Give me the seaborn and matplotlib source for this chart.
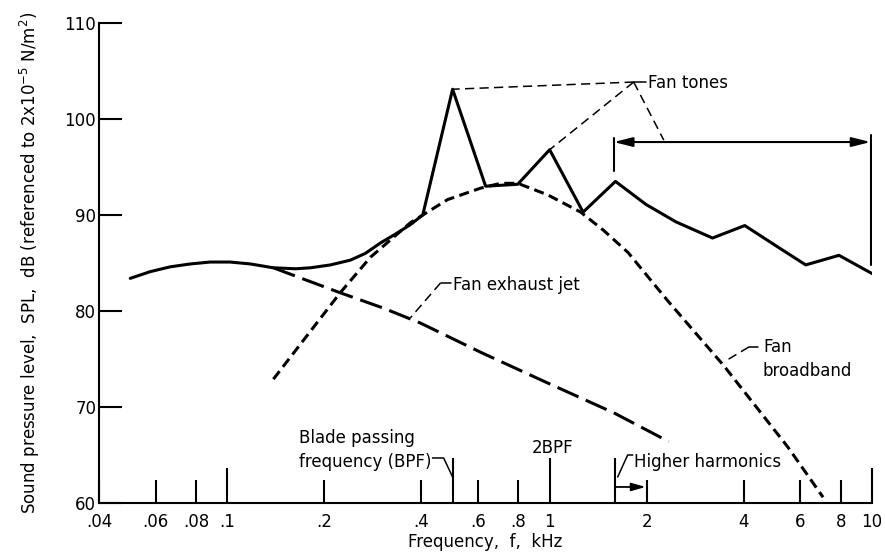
import matplotlib
matplotlib.use("Agg")
import matplotlib.pyplot as plt
from matplotlib.ticker import FixedLocator, FixedFormatter, NullFormatter
import seaborn as sns

# Total fan-engine spectrum (solid line), frequency in kHz and SPL in dB
total_khz = [0.050, 0.0577, 0.0665, 0.0767, 0.0886, 0.102, 0.118, 0.139, 0.163, 0.181,
             0.209, 0.241, 0.268, 0.299, 0.332, 0.370, 0.404, 0.500, 0.633, 0.796,
             1.00, 1.27, 1.60, 1.99, 2.46, 3.20, 4.03, 5.14, 6.23, 7.90, 10.0]
total_db = [83.4, 84.1, 84.6, 84.9, 85.1, 85.1, 84.9, 84.5, 84.4, 84.5,
            84.8, 85.3, 86.0, 87.1, 88.0, 89.0, 90.0, 103.1, 93.0, 93.2,
            96.8, 90.3, 93.5, 91.1, 89.3, 87.6, 88.9, 86.6, 84.8, 85.8, 83.9]

# Fan exhaust jet noise component (long dashes)
jet_khz = [0.139, 0.224, 0.305, 0.397, 0.611, 0.986, 1.58, 2.34]
jet_db = [84.5, 81.9, 80.3, 78.75, 75.7, 72.5, 69.4, 66.4]

# Fan broadband noise component (short dashes)
broadband_khz = [0.139, 0.224, 0.278, 0.370, 0.482, 0.611, 0.704, 0.796, 0.986,
                 1.248, 1.47, 1.75, 2.32, 3.47, 5.49, 7.05]
broadband_db = [72.9, 81.9, 85.6, 89.2, 91.6, 92.8, 93.3, 93.3, 92.1,
                90.3, 88.4, 86.1, 81.1, 74.3, 65.8, 60.6]

x_ticks = [0.04, 0.06, 0.08, 0.1, 0.2, 0.4, 0.6, 0.8, 1, 2, 4, 6, 8, 10]
x_tick_labels = [".04", ".06", ".08", ".1", ".2", ".4", ".6", ".8",
                 "1", "2", "4", "6", "8", "10"]
y_ticks = [60, 70, 80, 90, 100, 110]

bpf_khz = 0.5            # blade passing frequency
bpf2_khz = 1.0           # second harmonic
harmonics_khz = 1.6      # start of higher harmonics
tone_band_khz = (1.58, 9.9)
tone_band_db = 97.6

sns.set_theme(style="white")
plt.rcParams["font.family"] = ["DejaVu Sans"]
plt.rcParams["mathtext.fontset"] = "dejavusans"

ink = "black"
fs = 12

fig = plt.figure(figsize=(8.85, 5.55), dpi=100)
ax = fig.add_axes([99 / 885, 52 / 555, 773 / 885, 480 / 555])

sns.lineplot(x=total_khz, y=total_db, ax=ax, color=ink, lw=2.2,
             sort=False, estimator=None)
sns.lineplot(x=jet_khz, y=jet_db, ax=ax, color=ink, lw=2.2,
             sort=False, estimator=None)
ax.lines[-1].set_linestyle((0, (7.5, 2.6)))
sns.lineplot(x=broadband_khz, y=broadband_db, ax=ax, color=ink, lw=2.2,
             sort=False, estimator=None)
ax.lines[-1].set_linestyle((0, (3.3, 1.8)))

ax.set_xscale("log")
ax.set_xlim(0.04, 10)
ax.set_ylim(60, 110)

# axes styling
for side in ("top", "right"):
    ax.spines[side].set_visible(False)
for side in ("left", "bottom"):
    ax.spines[side].set_color(ink)
    ax.spines[side].set_linewidth(1.5)

ax.xaxis.set_major_locator(FixedLocator(x_ticks))
ax.xaxis.set_major_formatter(FixedFormatter(x_tick_labels))
ax.xaxis.set_minor_locator(FixedLocator([bpf_khz, harmonics_khz]))
ax.xaxis.set_minor_formatter(NullFormatter())
ax.set_yticks(y_ticks)
ax.set_yticklabels([str(v) for v in y_ticks])

ax.tick_params(axis="x", which="both", bottom=True, top=False)
ax.tick_params(axis="y", which="both", left=True, right=False)
ax.tick_params(axis="x", which="major", direction="in", length=16.5, width=1.5,
               color=ink, pad=7, labelsize=fs, labelcolor=ink)
ax.tick_params(axis="x", which="minor", direction="in", length=32.5, width=1.5,
               color=ink)
ax.tick_params(axis="y", direction="in", length=16.5, width=1.5, color=ink,
               pad=2, labelsize=fs, labelcolor=ink)
for tick, val in zip(ax.xaxis.get_major_ticks(), x_ticks):
    if val in (0.1, 10):
        tick.tick1line.set_markersize(25)
    if val == bpf2_khz:
        tick.tick1line.set_markersize(32.5)

ax.set_xlabel("Frequency,  f,  kHz", fontsize=fs, color=ink)
ax.xaxis.set_label_coords(0.5, -0.062)
ax.set_ylabel(r"Sound pressure level,  SPL,  dB (referenced to 2x10$^{-5}$ N/m$^{2}$)",
              fontsize=fs, color=ink)
ax.yaxis.set_label_coords(-0.074, 0.5)

thin = dict(color=ink, lw=1.1, clip_on=False)
dash = (0, (6, 3.5))

# Fan tones callout
hub = (1.823, 103.85)
bpf_peak = (total_khz[total_db.index(103.1)], 103.1)
bpf2_peak = (total_khz[total_db.index(96.8)], 96.8)
ax.text(2.015, 103.75, "Fan tones", fontsize=fs, color=ink, ha="left", va="center")
ax.plot([hub[0], 1.985], [hub[1], hub[1]], **thin)
ax.plot([hub[0], bpf_peak[0]], [hub[1], bpf_peak[1]], ls=dash, **thin)
ax.plot([hub[0], bpf2_peak[0]], [hub[1], bpf2_peak[1]], ls=dash, **thin)
ax.plot([hub[0], 2.26], [hub[1], tone_band_db + 0.2], ls=dash, **thin)

# higher-harmonic tone band bracket
ax.annotate("", xy=(tone_band_khz[1], tone_band_db), xytext=(tone_band_khz[0], tone_band_db),
            arrowprops=dict(arrowstyle="<|-|>,head_length=0.8,head_width=0.2",
                            mutation_scale=14, lw=1.5, color=ink,
                            shrinkA=0, shrinkB=0))
ax.plot([tone_band_khz[0]] * 2, [98.0, 94.6], color=ink, lw=1.5)
ax.plot([tone_band_khz[1]] * 2, [98.3, 84.8], color=ink, lw=1.5)

# Fan exhaust jet callout
ax.text(0.500, 82.7, "Fan exhaust jet", fontsize=fs, color=ink, ha="left", va="center")
ax.plot([0.4927, 0.4587], [82.92, 82.92], **thin)
ax.plot([0.4587, 0.370], [82.92, 79.3], ls=dash, **thin)

# Fan broadband callout
ax.text(4.59, 76.25, "Fan", fontsize=fs, color=ink, ha="left", va="center")
ax.text(4.59, 73.75, "broadband", fontsize=fs, color=ink, ha="left", va="center")
ax.plot([4.426, 4.15], [76.25, 76.25], **thin)
ax.plot([4.15, 3.47], [76.25, 74.69], ls=dash, **thin)

# frequency markers along the axis
ax.text(0.1675, 66.75, "Blade passing", fontsize=fs, color=ink, ha="left", va="center")
ax.text(0.1675, 64.25, "frequency (BPF)", fontsize=fs, color=ink, ha="left", va="center")
ax.plot([0.433, 0.469, bpf_khz], [64.69, 64.69, 62.71], color=ink, lw=1.1)

ax.text(1.02, 65.7, "2BPF", fontsize=fs, color=ink, ha="center", va="center")

ax.text(1.824, 64.27, "Higher harmonics", fontsize=fs, color=ink, ha="left", va="center")
ax.plot([1.811, 1.746, 1.626], [65.0, 65.0, 62.71], color=ink, lw=1.1)
ax.annotate("", xy=(1.985, 61.67), xytext=(harmonics_khz, 61.67),
            arrowprops=dict(arrowstyle="-|>,head_length=0.7,head_width=0.2",
                            mutation_scale=12, lw=1.3, color=ink,
                            shrinkA=0, shrinkB=0))

fig.savefig("out.png", dpi=100, facecolor="white")
